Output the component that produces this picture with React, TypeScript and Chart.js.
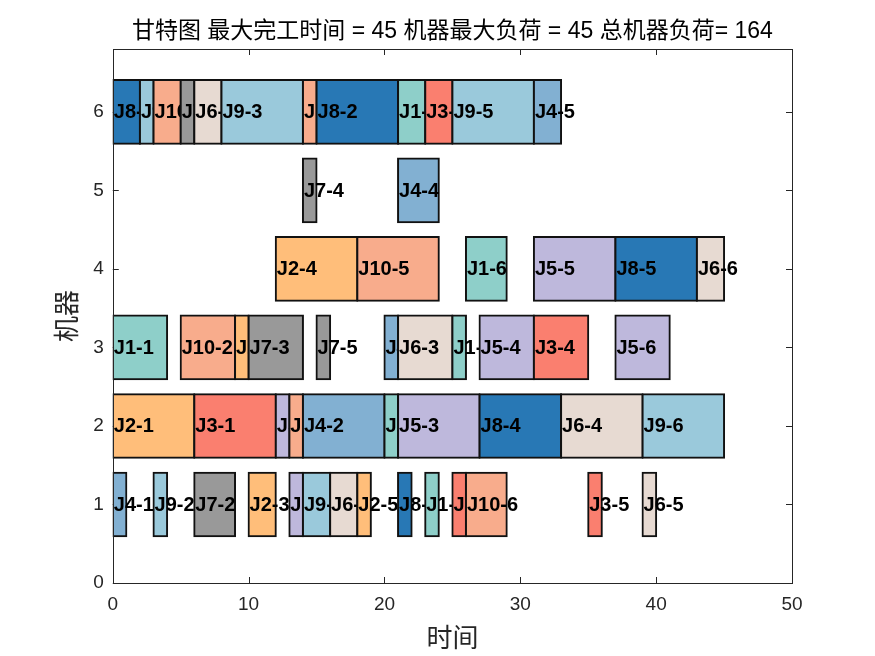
import React, { useEffect, useRef } from 'react';
import { Chart, registerables } from 'chart.js';

Chart.register(...registerables);

// ---- data ----
const titleText = '甘特图 最大完工时间 = 45 机器最大负荷 = 45 总机器负荷= 164';
const xAxisTitle = '时间';
const yAxisTitle = '机器';

const opLabels = [
  'J1-1', 'J1-2', 'J1-3', 'J1-4', 'J1-5', 'J1-6',
  'J2-1', 'J2-2', 'J2-3', 'J2-4', 'J2-5',
  'J3-1', 'J3-2', 'J3-3', 'J3-4', 'J3-5',
  'J4-1', 'J4-2', 'J4-3', 'J4-4', 'J4-5',
  'J5-1', 'J5-2', 'J5-3', 'J5-4', 'J5-5', 'J5-6',
  'J6-1', 'J6-2', 'J6-3', 'J6-4', 'J6-5', 'J6-6',
  'J7-1', 'J7-2', 'J7-3', 'J7-4', 'J7-5',
  'J8-1', 'J8-2', 'J8-3', 'J8-4', 'J8-5',
  'J9-1', 'J9-2', 'J9-3', 'J9-4', 'J9-5', 'J9-6',
  'J10-1', 'J10-2', 'J10-3', 'J10-4', 'J10-5', 'J10-6',
];
const opMachines = [
  3, 2, 6, 1, 3, 4,
  2, 3, 1, 4, 1,
  2, 6, 1, 3, 1,
  1, 2, 3, 5, 6,
  2, 1, 2, 3, 4, 3,
  6, 1, 3, 2, 1, 4,
  6, 1, 3, 5, 3,
  6, 6, 1, 2, 4,
  6, 1, 6, 1, 6, 2,
  6, 3, 2, 6, 4, 1,
];
const opStarts = [
  0, 20, 21, 23, 25, 26,
  0, 9, 10, 12, 18,
  6, 23, 25, 31, 35,
  0, 14, 20, 21, 31,
  12, 13, 21, 27, 31, 37,
  6, 16, 21, 33, 39, 43,
  5, 6, 10, 14, 15,
  0, 15, 21, 27, 37,
  2, 3, 8, 14, 25, 39,
  3, 5, 13, 14, 18, 26,
];
const opEnds = [
  4, 21, 23, 24, 26, 29,
  6, 10, 12, 18, 19,
  12, 25, 26, 35, 36,
  1, 20, 21, 24, 33,
  13, 14, 27, 31, 37, 41,
  8, 18, 25, 39, 40, 45,
  6, 9, 14, 15, 16,
  2, 21, 22, 33, 43,
  3, 4, 14, 16, 31, 45,
  5, 9, 14, 15, 24, 29,
];
const jobColors = [
  '#8ECFC9', '#FFBE7A', '#FA7F6F', '#82B0D2', '#BEB8DC',
  '#E7DAD2', '#999999', '#2878B5', '#9AC9DB', '#F8AC8C',
];
const xMin = 0;
const xMax = 50;
const xStep = 10;
const yMin = 0;
const yMax = 6.8;
const yStep = 1;

const textColor = '#262626';
const latinFont = "'Liberation Sans', Arial, 'Noto Sans CJK SC', sans-serif";
const cjkFont = "'Noto Sans CJK SC', 'Liberation Sans', sans-serif";

export default function App() {
  const canvasRef = useRef<HTMLCanvasElement | null>(null);

  useEffect(() => {
    document.body.style.margin = '0';
    const canvas = canvasRef.current;
    if (!canvas) return;

    // chronological drawing order
    const idx = opLabels.map((_, i) => i);
    idx.sort((a, b) => opStarts[a] - opStarts[b] || opMachines[a] - opMachines[b]);
    const n = idx.length;

    const datasets = idx.map((i, rank) => {
      const job = parseInt(opLabels[i].slice(1).split('-')[0], 10);
      return {
        label: opLabels[i],
        data: [{ x: [opStarts[i], opEnds[i]], y: opMachines[i] }],
        backgroundColor: jobColors[job - 1],
        borderColor: '#111111',
        borderWidth: 2,
        borderSkipped: false,
        inflateAmount: 1,
        grouped: false,
        barPercentage: 0.81,
        categoryPercentage: 1,
        order: n - rank,
      };
    });

    const labelPlugin = {
      id: 'opLabels',
      afterDatasetDraw(chart: any, args: any) {
        const meta = chart.getDatasetMeta(args.index);
        const el: any = meta.data[0];
        if (!el) return;
        const ctx = chart.ctx;
        const left = Math.min(el.x, el.base);
        ctx.save();
        ctx.font = `bold 20px ${latinFont}`;
        ctx.fillStyle = '#000000';
        ctx.textAlign = 'left';
        ctx.textBaseline = 'middle';
        ctx.fillText(chart.data.datasets[args.index].label, left + 1, el.y + 1);
        ctx.restore();
      },
    };

    const framePlugin = {
      id: 'frameTicks',
      beforeDatasetsDraw(chart: any) {
        const { ctx, chartArea: a, scales } = chart;
        ctx.save();
        ctx.strokeStyle = textColor;
        ctx.lineWidth = 1;
        const tl = 6;
        scales.x.ticks.forEach((t: any) => {
          const px = Math.round(scales.x.getPixelForValue(t.value)) + 0.5;
          ctx.beginPath();
          ctx.moveTo(px, a.bottom);
          ctx.lineTo(px, a.bottom - tl);
          ctx.moveTo(px, a.top);
          ctx.lineTo(px, a.top + tl);
          ctx.stroke();
        });
        scales.y.ticks.forEach((t: any) => {
          const py = Math.round(scales.y.getPixelForValue(t.value)) + 0.5;
          ctx.beginPath();
          ctx.moveTo(a.left, py);
          ctx.lineTo(a.left + tl, py);
          ctx.moveTo(a.right, py);
          ctx.lineTo(a.right - tl, py);
          ctx.stroke();
        });
        ctx.restore();
      },
      afterDatasetsDraw(chart: any) {
        const { ctx, chartArea: a } = chart;
        ctx.save();
        ctx.strokeStyle = textColor;
        ctx.lineWidth = 1;
        ctx.strokeRect(
          Math.round(a.left) + 0.5,
          Math.round(a.top) + 0.5,
          Math.round(a.right - a.left),
          Math.round(a.bottom - a.top)
        );
        ctx.restore();
      },
    };

    const chart = new Chart(canvas, {
      type: 'bar',
      data: { datasets: datasets as any },
      options: {
        animation: false,
        responsive: true,
        maintainAspectRatio: false,
        indexAxis: 'y',
        layout: { padding: { left: 51, right: 83, top: 0, bottom: 3 } },
        plugins: {
          legend: { display: false },
          tooltip: { enabled: false },
          title: {
            display: true,
            text: titleText,
            fullSize: false,
            color: '#000000',
            font: { family: latinFont, size: 23, weight: 'normal', lineHeight: 1.2 },
            padding: { top: 18, bottom: 3.4 },
          },
        },
        scales: {
          x: {
            type: 'linear',
            position: 'bottom',
            min: xMin,
            max: xMax,
            offset: false,
            grid: { display: false, drawTicks: false, tickLength: 0 },
            border: { display: false },
            ticks: {
              stepSize: xStep,
              color: textColor,
              padding: 10,
              font: { family: latinFont, size: 19, lineHeight: 1.2 },
              maxRotation: 0,
            },
            title: {
              display: true,
              text: xAxisTitle,
              color: textColor,
              font: { family: cjkFont, size: 26, lineHeight: 1.2 },
              padding: { top: -4, bottom: 0 },
            },
          },
          y: {
            type: 'linear',
            position: 'left',
            min: yMin,
            max: yMax,
            offset: false,
            grid: { display: false, drawTicks: false, tickLength: 0 },
            border: { display: false },
            afterBuildTicks(scale: any) {
              scale.ticks = scale.ticks.filter((t: any) => Number.isInteger(t.value));
            },
            ticks: {
              stepSize: yStep,
              color: textColor,
              padding: 9,
              font: { family: latinFont, size: 19, lineHeight: 1.2 },
            },
            title: {
              display: true,
              text: yAxisTitle,
              color: textColor,
              font: { family: cjkFont, size: 26, lineHeight: 1.2 },
              padding: { top: 0, bottom: 2 },
            },
          },
        },
      },
      plugins: [labelPlugin, framePlugin],
    });

    return () => chart.destroy();
  }, []);

  return (
    <div style={{ position: 'relative', width: '875px', height: '656px', background: '#ffffff' }}>
      <canvas ref={canvasRef} />
    </div>
  );
}
